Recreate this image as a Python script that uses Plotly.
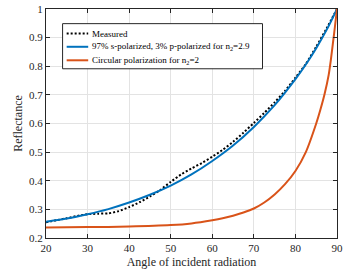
import plotly.graph_objects as go

# Measured (black dotted)
meas_angle = [20, 22.5, 25, 27.5, 30, 32.5, 35, 37.5, 40, 42.5, 45, 47.5, 50, 52.5, 55,
              57.5, 60, 62.5, 65, 67.5, 70, 72.5, 75, 77.5, 80, 82.5, 85, 87.5, 90]
meas_R = [0.255, 0.262, 0.269, 0.277, 0.283, 0.285, 0.286, 0.294, 0.308, 0.325, 0.345,
          0.368, 0.396, 0.422, 0.443, 0.462, 0.484, 0.508, 0.536, 0.568, 0.602, 0.637,
          0.674, 0.714, 0.760, 0.808, 0.868, 0.932, 1.0]

# 97% s-polarized, 3% p-polarized, n2 = 2.9 (blue)
s_angle = [20, 25, 30, 35, 40, 45, 50, 55, 60, 65, 70, 75, 80, 82.5, 85, 87.5, 89, 90]
s_R = [0.257, 0.268, 0.283, 0.301, 0.324, 0.351, 0.383, 0.422, 0.469, 0.523, 0.588,
       0.664, 0.755, 0.806, 0.863, 0.927, 0.970, 1.0]

# Circular polarization, n2 = 2 (orange)
c_angle = [20, 30, 40, 50, 55, 60, 62.5, 65, 67.5, 70, 72.5, 75, 77.5, 80, 82.5, 85, 86,
           87, 88, 88.5, 89, 89.5, 90]
c_R = [0.237, 0.238, 0.240, 0.245, 0.251, 0.262, 0.269, 0.278, 0.289, 0.303, 0.324,
       0.352, 0.388, 0.434, 0.500, 0.600, 0.648, 0.702, 0.770, 0.820, 0.878, 0.938, 1.0]

legend_names = ["Measured",
                "97% s-polarized, 3% p-polarized for n<sub>2</sub>=2.9",
                "Circular polarization for n<sub>2</sub>=2"]
line_colors = ["black", "#0072BD", "#D95319"]
line_dashes = ["2px,2px", "solid", "solid"]

x_ticks = [20, 30, 40, 50, 60, 70, 80, 90]
y_ticks = [0.2, 0.3, 0.4, 0.5, 0.6, 0.7, 0.8, 0.9, 1.0]
y_tick_text = ["0.2", "0.3", "0.4", "0.5", "0.6", "0.7", "0.8", "0.9", "1"]

font_fam = "Liberation Serif, Times New Roman, serif"

fig = go.Figure()
for xs, ys, nm, col, dsh in zip([meas_angle, s_angle, c_angle], [meas_R, s_R, c_R],
                                legend_names, line_colors, line_dashes):
    fig.add_trace(go.Scatter(x=xs, y=ys, mode="lines", name=nm, showlegend=False,
                             line=dict(color=col, width=2, dash=dsh, shape="spline",
                                       smoothing=0.6)))

# Legend box drawn in paper coordinates (MATLAB-style compact legend)
leg_x0, leg_x1, leg_y0, leg_y1 = 0.057, 0.744, 0.739, 0.936
row_y = [0.893, 0.835, 0.776]
fig.add_shape(type="rect", xref="paper", yref="paper", x0=leg_x0, x1=leg_x1,
              y0=leg_y0, y1=leg_y1, line=dict(color="#262626", width=1),
              fillcolor="white", layer="above")
for ry, nm, col, dsh in zip(row_y, legend_names, line_colors, line_dashes):
    fig.add_shape(type="line", xref="paper", yref="paper", x0=0.071, x1=0.145,
                  y0=ry, y1=ry, line=dict(color=col, width=2, dash=dsh), layer="above")
    fig.add_annotation(xref="paper", yref="paper", x=0.150, y=ry, text=nm,
                       showarrow=False, xanchor="left", yanchor="middle",
                       font=dict(family=font_fam, size=9, color="black"))

axis_common = dict(showgrid=True, gridcolor="#e3e3e3", gridwidth=1, showline=True,
                   linecolor="#262626", linewidth=1, mirror="ticks", ticks="inside",
                   ticklen=4, tickcolor="#262626", zeroline=False,
                   ticklabeloverflow="allow",
                   tickfont=dict(family=font_fam, size=11, color="#262626"))

fig.update_layout(
    width=346, height=276,
    margin=dict(l=46, r=3, t=4, b=38),
    paper_bgcolor="white", plot_bgcolor="white",
    font=dict(family=font_fam, size=11, color="#262626"),
    xaxis=dict(range=[20, 90], tickvals=x_ticks,
               title=dict(text="Angle of incident radiation", standoff=4,
                          font=dict(family=font_fam, size=12, color="#262626")),
               **axis_common),
    yaxis=dict(range=[0.2, 1.0], tickvals=y_ticks, ticktext=y_tick_text,
               title=dict(text="Reflectance", standoff=3,
                          font=dict(family=font_fam, size=12, color="#262626")),
               **axis_common),
    showlegend=False,
)

fig.write_html("out.html", config={"displayModeBar": False},
               post_script="document.body.style.margin='0';document.body.style.padding='0';")
